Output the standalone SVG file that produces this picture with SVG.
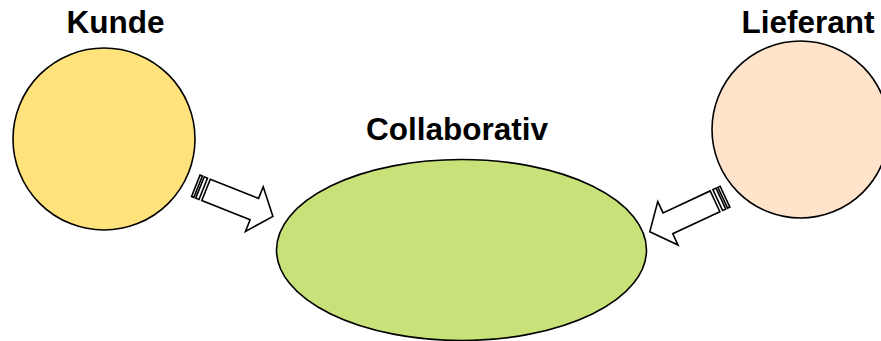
<svg xmlns="http://www.w3.org/2000/svg" width="881" height="341" viewBox="0 0 881 341">
<style>
.lbl{font-family:"Liberation Sans",Arial,sans-serif;font-weight:bold;font-size:31.5px;fill:#000;text-anchor:middle}
.shape{stroke:#000;stroke-width:1.6}
.arr{fill:#fff;stroke:#000;stroke-width:1.6;stroke-linejoin:miter}
</style>
<defs>
<g id="striped">
<rect class="arr" x="0" y="-11.5" width="2.5" height="23"/>
<rect class="arr" x="4.5" y="-11.5" width="3.5" height="23"/>
<polygon class="arr" points="11,-11.5 63,-11.5 63,-24 83,0 63,24 63,11.5 11,11.5"/>
</g>
</defs>
<rect width="881" height="341" fill="#fff"/>
<g id="kunde">
<circle class="shape" cx="104" cy="139" r="91" fill="#FFE27B"/>
<text class="lbl" x="115.5" y="33">Kunde</text>
</g>
<g id="lieferant">
<circle class="shape" cx="800.5" cy="129.5" r="88.5" fill="#FFE3CA"/>
<text class="lbl" x="808" y="33">Lieferant</text>
</g>
<g id="collaborativ">
<ellipse class="shape" cx="461.5" cy="250" rx="185" ry="90.5" fill="#C8E178"/>
<text class="lbl" x="457" y="140">Collaborativ</text>
</g>
<g id="connectors">
<use href="#striped" transform="translate(195.8,185.8) rotate(21.7)"/>
<use href="#striped" transform="translate(725,196.7) rotate(155)"/>
</g>
</svg>
